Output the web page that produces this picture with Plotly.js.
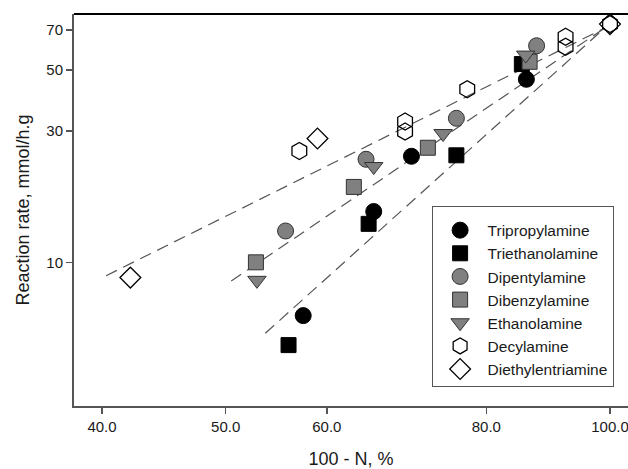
<!DOCTYPE html>
<html><head><meta charset="utf-8">
<script src="https://cdn.plot.ly/plotly-3.0.1.min.js"></script>
<style>html,body{margin:0;padding:0;background:#fff;}#chart{width:628px;height:469px;}</style>
</head><body><div id="chart"></div>
<script>
// ---- data ----
const seriesNames = ["Tripropylamine","Triethanolamine","Dipentylamine","Dibenzylamine","Ethanolamine","Decylamine","Diethylentriamine"];

const tripropylamineX = [57.5, 65.3, 69.9, 86.0];
const tripropylamineY = [6.4, 15.3, 24.3, 46.3];

const triethanolamineX = [56.0, 64.7, 75.8, 85.3];
const triethanolamineY = [5.0, 13.8, 24.5, 52.6];

const dipentylamineX = [55.7, 64.4, 75.8, 87.6];
const dipentylamineY = [13.0, 23.7, 33.4, 61.3];

const dibenzylamineX = [52.8, 63.0, 72.0, 86.5];
const dibenzylamineY = [10.0, 18.8, 26.1, 53.6];

const ethanolamineX = [52.9, 65.3, 74.0, 85.9];
const ethanolamineY = [8.6, 22.3, 29.4, 56.7];

const decylamineX = [57.1, 69.1, 69.1, 77.3, 92.3, 92.3, 100];
const decylamineY = [25.4, 32.5, 29.9, 42.6, 66.1, 60.8, 73.5];

const diethylentriamineX = [42.1, 59.0, 100];
const diethylentriamineY = [8.8, 28.2, 73.5];

// dashed fitted lines (end points)
const fitUpperX = [40.3, 99];
const fitUpperY = [8.94, 71];
const fitMiddleX = [50.5, 99];
const fitMiddleY = [8.55, 71];
const fitLowerX = [53.7, 99];
const fitLowerY = [5.52, 71];

const xTickVals = [40, 50, 60, 80, 100];
const xTickText = ["40.0", "50.0", "60.0", "80.0", "100.0"];
const yTickVals = [10, 30, 50, 70];
const yTickText = ["10", "30", "50", "70"];

// ---- traces ----
const dash = {color:'#555', width:1.2, dash:'12px,7px'};
const traces = [];
[[fitUpperX,fitUpperY],[fitMiddleX,fitMiddleY],[fitLowerX,fitLowerY]].forEach(function(p){
  traces.push({x:p[0], y:p[1], mode:'lines', line:dash, showlegend:false, hoverinfo:'skip'});
});

const seriesData = [
  [tripropylamineX, tripropylamineY, {symbol:'circle', size:16, color:'#000', line:{color:'#000', width:1}}],
  [triethanolamineX, triethanolamineY, {symbol:'square', size:15, color:'#000', line:{color:'#000', width:1}}],
  [dipentylamineX, dipentylamineY, {symbol:'circle', size:16, color:'#808080', line:{color:'#333', width:1}}],
  [dibenzylamineX, dibenzylamineY, {symbol:'square', size:15, color:'#808080', line:{color:'#333', width:1}}],
  [ethanolamineX, ethanolamineY, {symbol:'triangle-down', size:16, color:'#808080', line:{color:'#333', width:1}}],
  [decylamineX, decylamineY, {symbol:'hexagon-open', size:17, color:'#000', line:{color:'#000', width:1.3}}],
  [diethylentriamineX, diethylentriamineY, {symbol:'diamond-open', size:16, color:'#000', line:{color:'#000', width:1.3}}]
];
seriesData.forEach(function(s, i){
  traces.push({x:s[0], y:s[1], name:seriesNames[i], mode:'markers', marker:s[2]});
});

const layout = {
  width:628, height:469,
  margin:{l:74, r:0, t:14, b:63},
  paper_bgcolor:'#fff', plot_bgcolor:'#fff',
  font:{family:'"Liberation Sans", Arial, sans-serif', size:15, color:'#1a1a1a'},
  showlegend:true,
  xaxis:{type:'log', range:[Math.log10(38.03), Math.log10(103.3)],
    tickmode:'array', tickvals:xTickVals, ticktext:xTickText, ticklabeloverflow:'allow',
    ticks:'outside', ticklen:6, tickwidth:1.5, tickcolor:'#555',
    showline:true, linecolor:'#555', linewidth:2, showgrid:false, zeroline:false,
    title:{text:'100 - N, %', font:{size:18}, standoff:22}, automargin:false},
  yaxis:{type:'log', range:[0.4775, 1.903],
    tickmode:'array', tickvals:yTickVals, ticktext:yTickText,
    ticks:'outside', ticklen:6, tickwidth:1.5, tickcolor:'#555',
    showline:true, linecolor:'#555', linewidth:2, showgrid:false, zeroline:false,
    title:{text:'Reaction rate, mmol/h.g', font:{size:18}, standoff:12}, automargin:false},
  legend:{x:0.6455, y:0.51, xanchor:'left', yanchor:'top', bgcolor:'#fff',
    bordercolor:'#555', borderwidth:1, font:{size:15.5}, itemwidth:45, tracegroupgap:0,
    title:{text:' ', font:{size:5}}},
  shapes:[{type:'line', xref:'paper', yref:'paper', x0:0, x1:1, y0:1, y1:1, line:{color:'#000', width:2}}]
};

Plotly.newPlot('chart', traces, layout, {staticPlot:true, displayModeBar:false});
</script>
</body></html>
